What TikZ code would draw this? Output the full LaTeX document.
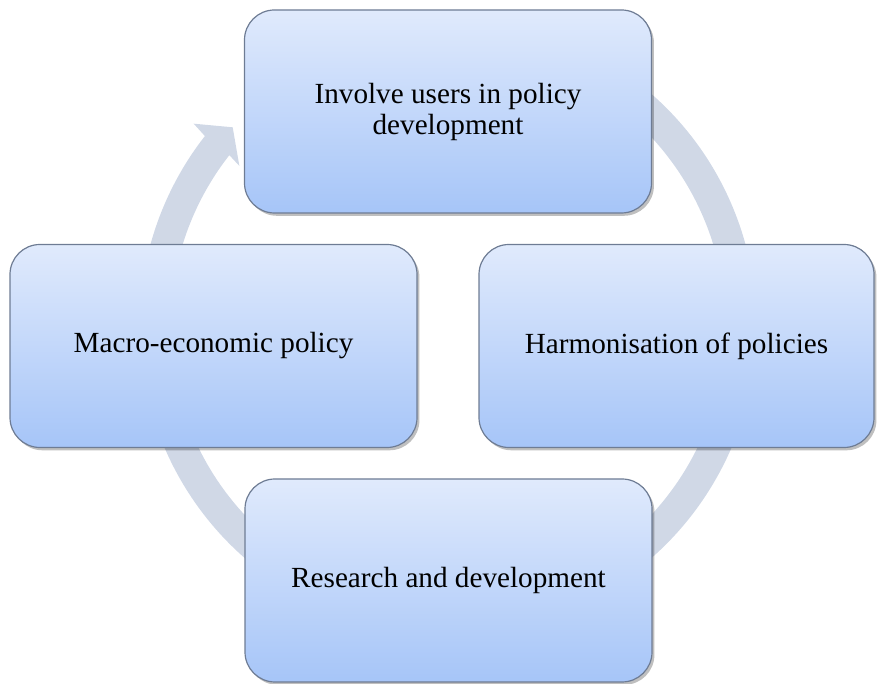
\documentclass[tikz,border=0pt]{standalone}
\usepackage{fontspec}
\setmainfont{Liberation Serif}
\usepackage{xcolor}
\usepackage{tikz}
\usetikzlibrary{shadows}
\definecolor{boxtop}{RGB}{224,234,252}
\definecolor{boxbot}{RGB}{166,197,248}
\definecolor{boxline}{RGB}{110,124,148}
\definecolor{ringgrey}{RGB}{208,216,230}

\begin{document}
\begin{tikzpicture}[x=0.5pt, y=0.5pt,
        cbox/.style={draw=boxline, line width=0.6pt, rounded corners=15pt,
                     top color=boxtop, bottom color=boxbot, align=center,
                     minimum height=101.5pt, inner sep=4pt,
                     font=\fontsize{14.6}{15.5}\selectfont,
                     drop shadow={shadow xshift=1.2pt, shadow yshift=-1.4pt,
                                  fill=black, opacity=0.25}}
    ]
    \useasboundingbox (0,0) rectangle (877,684);
    % circular arrow behind the boxes
    \begin{scope}[shift={(448,358)}]
      \fill[ringgrey] (60:308.5) arc[start angle=60, end angle=-218, radius=308.5]
        -- (-218.5:325) -- (-222.7:293) -- (-217.5:263) -- (-218:277.5)
        arc[start angle=-218, end angle=60, radius=277.5] -- cycle;
    \end{scope}
    \node[cbox, minimum width=203.5pt] (invol) at (448,572.5) {Involve users in policy\\development};
    \node[cbox, minimum width=203.5pt] (macro) at (213.5,338) {Macro-economic policy};
    \node[cbox, minimum width=197.5pt] (harm) at (676.5,338) {Harmonisation of policies};
    \node[cbox, minimum width=203.5pt] (resdev) at (448.5,103.5) {Research and development};
\end{tikzpicture}
\end{document}
